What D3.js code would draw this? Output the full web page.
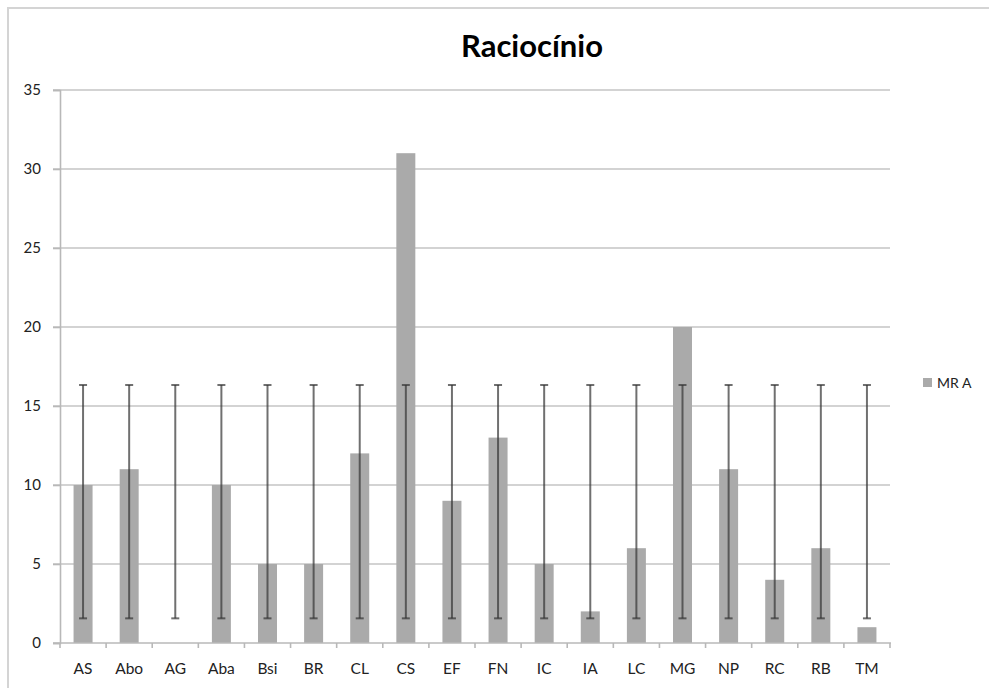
<!DOCTYPE html>
<html>
<head>
<meta charset="utf-8">
<script src="https://cdn.jsdelivr.net/npm/d3@7"></script>
<style>
  html, body { margin: 0; padding: 0; background: #fff; }
  svg { display: block; }
  text { font-family: Lato, "Open Sans", sans-serif; }
</style>
</head>
<body>
<svg id="chart" width="989" height="688"></svg>
<script>
const title = "Raciocínio";
const categories = ["AS","Abo","AG","Aba","Bsi","BR","CL","CS","EF","FN","IC","IA","LC","MG","NP","RC","RB","TM"];
const values = [10, 11, 0, 10, 5, 5, 12, 31, 9, 13, 5, 2, 6, 20, 11, 4, 6, 1];
const errLow = [1.56,1.56,1.56,1.56,1.56,1.56,1.56,1.56,1.56,1.56,1.56,1.56,1.56,1.56,1.56,1.56,1.56,1.56];
const errHigh = [16.33,16.33,16.33,16.33,16.33,16.33,16.33,16.33,16.33,16.33,16.33,16.33,16.33,16.33,16.33,16.33,16.33,16.33];
const yTicks = [0, 5, 10, 15, 20, 25, 30, 35];
const seriesName = "MR A";

(function () {
const data = categories.map((c, i) => ({ cat: c, v: values[i], lo: errLow[i], hi: errHigh[i] }));

const svg = d3.select("#chart");
const mLeft = 60, mRight = 890, mTop = 90, mBottom = 643;

// outer frame
svg.append("path")
  .attr("d", "M8,688 L8,8 L989,8")
  .attr("fill", "none").attr("stroke", "#d4d4d4").attr("stroke-width", 2);

const x = d3.scaleBand().domain(categories).range([mLeft, mRight]).paddingInner(0).paddingOuter(0);
const y = d3.scaleLinear().domain([0, 35]).range([mBottom, mTop]);

// gridlines
svg.append("g").selectAll("line").data(yTicks.filter(t => t > 0)).join("line")
  .attr("x1", mLeft - 7).attr("x2", mRight)
  .attr("y1", d => y(d)).attr("y2", d => y(d))
  .attr("stroke", "#c4c4c4").attr("stroke-width", 1.6);

// y axis
const yAxis = svg.append("g").attr("transform", `translate(${mLeft},0)`)
  .call(d3.axisLeft(y).tickValues(yTicks).tickSize(7).tickPadding(12));
yAxis.select(".domain").attr("stroke", "#b8b8b8").attr("stroke-width", 1.6);
yAxis.selectAll(".tick line").attr("stroke", "#b8b8b8").attr("stroke-width", 1.6);
yAxis.selectAll(".tick text").attr("font-size", 15).attr("fill", "#222").attr("font-family", "Lato, sans-serif");

// bars
const bw = 19;
svg.append("g").selectAll("rect").data(data).join("rect")
  .attr("x", d => x(d.cat) + x.bandwidth() / 2 - bw / 2)
  .attr("width", bw)
  .attr("y", d => y(d.v))
  .attr("height", d => y(0) - y(d.v))
  .attr("fill", "#aaaaaa");

// x axis
const xAxisG = svg.append("g").attr("transform", `translate(0,${mBottom})`);
xAxisG.append("line").attr("x1", mLeft - 7).attr("x2", mRight + 1).attr("y1", 0).attr("y2", 0)
  .attr("stroke", "#b8b8b8").attr("stroke-width", 1.6);
const boundaries = categories.map(c => x(c)).concat([mRight]);
xAxisG.selectAll("line.tk").data(boundaries).join("line").attr("class", "tk")
  .attr("x1", d => d).attr("x2", d => d).attr("y1", 0).attr("y2", 5)
  .attr("stroke", "#b8b8b8").attr("stroke-width", 1.6);
xAxisG.selectAll("text").data(categories).join("text")
  .attr("x", d => x(d) + x.bandwidth() / 2)
  .attr("y", 31)
  .attr("text-anchor", "middle")
  .attr("font-size", 15.5).attr("fill", "#222")
  .text(d => d);

// error bars
const eb = svg.append("g").attr("stroke", "#333").attr("stroke-opacity", 0.7).attr("stroke-width", 2);
data.forEach(d => {
  const cx = x(d.cat) + x.bandwidth() / 2;
  eb.append("line").attr("x1", cx).attr("x2", cx).attr("y1", y(d.lo)).attr("y2", y(d.hi));
  eb.append("line").attr("x1", cx - 4).attr("x2", cx + 4).attr("y1", y(d.lo)).attr("y2", y(d.lo));
  eb.append("line").attr("x1", cx - 4).attr("x2", cx + 4).attr("y1", y(d.hi)).attr("y2", y(d.hi));
});

// title
svg.append("text").attr("x", 532).attr("y", 57).attr("text-anchor", "middle")
  .attr("font-size", 31).attr("font-weight", "bold").attr("fill", "#000")
  .text(title);

// legend
svg.append("rect").attr("x", 923).attr("y", 378).attr("width", 9).attr("height", 9).attr("fill", "#aaaaaa");
svg.append("text").attr("x", 937).attr("y", 388).attr("font-size", 14).attr("fill", "#222").text(seriesName);
})();
</script>
</body>
</html>
